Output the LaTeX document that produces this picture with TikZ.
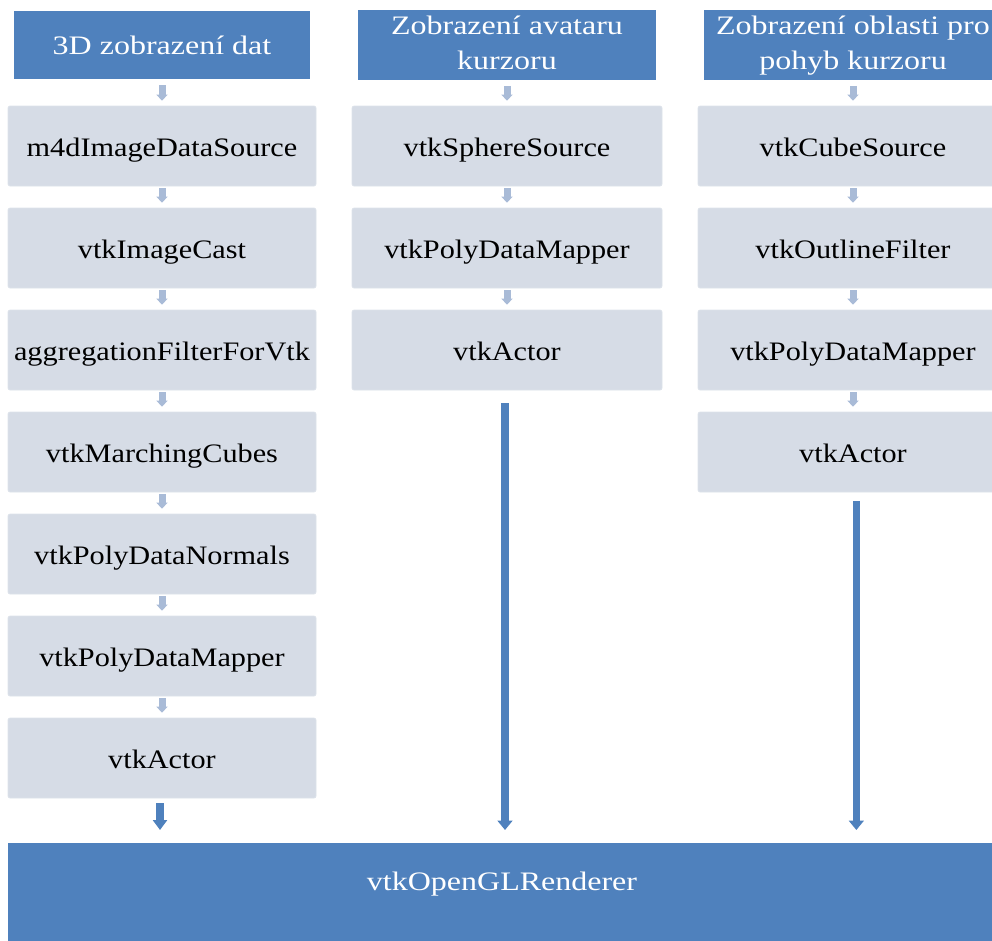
\documentclass[tikz,border=0pt]{standalone}
\usepackage{fontspec}
\usepackage{graphicx}
\setmainfont{Liberation Serif}
\usetikzlibrary{arrows.meta}
\definecolor{hdrblue}{HTML}{4F81BD}
\definecolor{boxgray}{HTML}{D6DCE6}
\definecolor{boxedge}{HTML}{DDE2EA}
\definecolor{arrlight}{HTML}{A9BBD7}
\newcommand\wbox[1]{\scalebox{1.135}[1]{#1}}
\newcommand\whdr[1]{\scalebox{1.2}[1]{#1}}
\tikzset{
  hdrbox/.style={fill=hdrblue, text=white, minimum width=222pt, minimum height=51pt,
    inner sep=0pt, font=\fontsize{20}{26}\selectfont},
  stepbox/.style={fill=boxgray, draw=boxedge, line width=0.5pt, rounded corners=1.5pt,
    minimum width=231pt, minimum height=60pt, inner sep=0pt, text height=19pt, text depth=4pt,
    font=\fontsize{20}{24}\selectfont},
  smallarr/.style={draw=arrlight, line width=5.25pt, -{Triangle[width=8.25pt,length=4.5pt]}},
  bigarr/.style={draw=hdrblue, line width=5.6pt, -{Triangle[width=11pt,length=7pt]}},
}
\begin{document}
\begin{tikzpicture}[x=0.75pt,y=-0.75pt]
\useasboundingbox (0,0) rectangle (992,940);
\clip (0,0) rectangle (992,940);
% headers
\node[hdrbox] (h1) at (162,45) {\whdr{3D zobrazení dat}};
\node[hdrbox, minimum width=223.5pt] (h2) at (507,45) {\whdr{\begin{tabular}{@{}c@{}}Zobrazení avataru\\kurzoru\end{tabular}}};
\node[hdrbox, minimum width=223.5pt] (h3) at (853,45) {\whdr{\begin{tabular}{@{}c@{}}Zobrazení oblasti pro\\pohyb kurzoru\end{tabular}}};
% column 1
\node[stepbox] (a1) at (162,146) {\wbox{m4dImageDataSource}};
\node[stepbox] (a2) at (162,248) {\wbox{vtkImageCast}};
\node[stepbox] (a3) at (162,350) {\wbox{aggregationFilterForVtk}};
\node[stepbox] (a4) at (162,452) {\wbox{vtkMarchingCubes}};
\node[stepbox] (a5) at (162,554) {\wbox{vtkPolyDataNormals}};
\node[stepbox] (a6) at (162,656) {\wbox{vtkPolyDataMapper}};
\node[stepbox] (a7) at (162,758) {\wbox{vtkActor}};
% column 2
\node[stepbox, minimum width=232.5pt] (b1) at (507,146) {\wbox{vtkSphereSource}};
\node[stepbox, minimum width=232.5pt] (b2) at (507,248) {\wbox{vtkPolyDataMapper}};
\node[stepbox, minimum width=232.5pt] (b3) at (507,350) {\wbox{vtkActor}};
% column 3
\node[stepbox, minimum width=232.5pt] (c1) at (853,146) {\wbox{vtkCubeSource}};
\node[stepbox, minimum width=232.5pt] (c2) at (853,248) {\wbox{vtkOutlineFilter}};
\node[stepbox, minimum width=232.5pt] (c3) at (853,350) {\wbox{vtkPolyDataMapper}};
\node[stepbox, minimum width=232.5pt] (c4) at (853,452) {\wbox{vtkActor}};
% bottom bar
\node[fill=hdrblue, minimum width=750pt, minimum height=75pt, inner sep=0pt, anchor=north west] (bar) at (8,843) {};
\node[text=white, font=\fontsize{20}{24}\selectfont, inner sep=0pt] (barlabel) at (502,884) {\whdr{vtkOpenGLRenderer}};
% small arrows
\draw[smallarr, shorten <=4.5pt, shorten >=3.75pt] (h1) -- (a1);
\draw[smallarr, shorten <=4.5pt, shorten >=3.75pt] (h2) -- (b1);
\draw[smallarr, shorten <=4.5pt, shorten >=3.75pt] (h3) -- (c1);
\foreach \u/\v in {a1/a2,a2/a3,a3/a4,a4/a5,a5/a6,a6/a7,b1/b2,b2/b3,c1/c2,c2/c3,c3/c4}
  \draw[smallarr, shorten <=1.5pt, shorten >=3.75pt] (\u) -- (\v);
% big arrows
\draw[bigarr, line width=6pt, -{Triangle[width=10.5pt,length=7.5pt]}, shorten <=3.75pt, shorten >=9.75pt] ([xshift=-1.5pt]a7.south) -- ([xshift=-1.5pt]a7.south |- bar.north);
\draw[bigarr, shorten <=9.75pt, shorten >=9.75pt] ([xshift=-1.5pt]b3.south) -- ([xshift=-1.5pt]b3.south |- bar.north);
\draw[bigarr, shorten <=6.75pt, shorten >=9.75pt] ([xshift=2.5pt]c4.south) -- ([xshift=2.5pt]c4.south |- bar.north);
\end{tikzpicture}
\end{document}
